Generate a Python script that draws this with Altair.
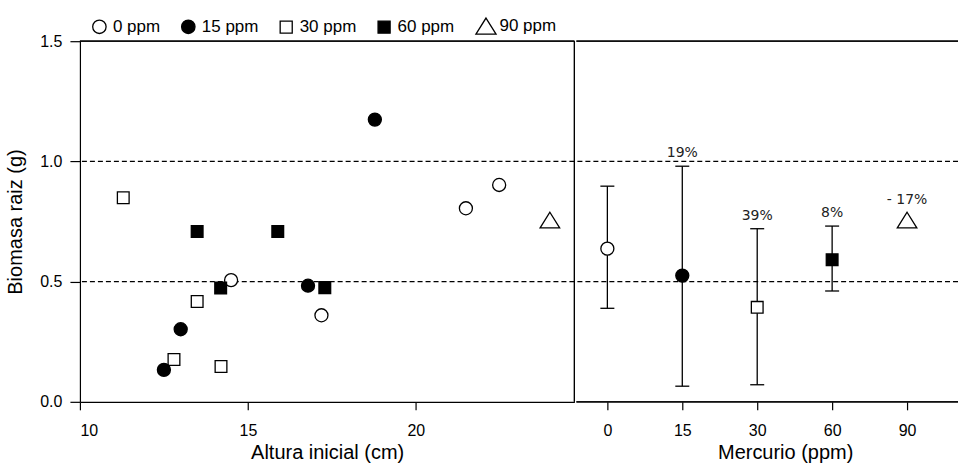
import altair as alt
import pandas as pd

# ---- Left panel: individual plants ----
altura = [11.29, 13.49, 15.89, 14.50, 14.19, 16.79, 17.29, 13.49, 17.19,
          13.00, 12.80, 12.50, 14.20, 18.78, 22.48, 21.49, 23.99]
biomasa = [0.849, 0.708, 0.708, 0.506, 0.473, 0.483, 0.475, 0.417, 0.360,
           0.302, 0.176, 0.133, 0.147, 1.174, 0.902, 0.805, 0.756]
grupo = ["30 ppm", "60 ppm", "60 ppm", "0 ppm", "60 ppm", "15 ppm", "60 ppm",
         "30 ppm", "0 ppm", "15 ppm", "30 ppm", "15 ppm", "30 ppm", "15 ppm",
         "0 ppm", "0 ppm", "90 ppm"]

# ---- Right panel: means per mercury level ----
conc = ["0", "15", "30", "60", "90"]
grupos = ["0 ppm", "15 ppm", "30 ppm", "60 ppm", "90 ppm"]
media = [0.637, 0.525, 0.393, 0.591, 0.756]
sup = [0.897, 0.980, 0.720, 0.731, None]
inf = [0.389, 0.065, 0.071, 0.461, None]
pct = ["", "19%", "39%", "8%", "- 17%"]

ref_y = [0.5, 1.0]

FONT = "Liberation Sans"
SQUARE = "M-0.9,-0.9L0.9,-0.9L0.9,0.9L-0.9,0.9Z"
TRI = "M0,-1.2L1.5,1.2L-1.5,1.2Z"

left_df = pd.DataFrame({"altura": altura, "biomasa": biomasa, "grupo": grupo})
right_df = pd.DataFrame({"conc": conc, "grupo": grupos, "media": media,
                         "sup": sup, "inf": inf, "pct": pct})
ref_df = pd.DataFrame({"y": ref_y})

legend = alt.Legend(orient="none", legendX=11, legendY=-24, direction="horizontal",
                    symbolSize=180, symbolStrokeWidth=1.3, labelFont=FONT,
                    labelFontSize=17, labelColor="black", labelOffset=5,
                    columnPadding=18, symbolOpacity=1)
fill_scale = alt.Scale(domain=grupos, range=["white", "black", "white", "black", "white"])
stroke_scale = alt.Scale(domain=grupos, range=["black", "black", "black", "black", "black"])
shape_scale = alt.Scale(domain=grupos, range=["circle", "circle", SQUARE, SQUARE, TRI])
y_scale = alt.Scale(domain=[0, 1.5], nice=False, zero=False)

axis_common = dict(labelFont=FONT, labelFontSize=16, labelColor="black",
                   titleFont=FONT, titleFontSize=20, titleFontWeight="normal",
                   titleColor="black", domainColor="black", tickColor="black",
                   domainWidth=1.2, tickWidth=1.2, grid=False)

H = 361
WL = 495
WR = 382

# ---------- left panel ----------
xl = alt.X("altura:Q", scale=alt.Scale(domain=[10, 24.72], nice=False, zero=False),
           axis=alt.Axis(values=[10, 15, 20], title="Altura inicial (cm)", tickSize=8,
                         labelPadding=13, titlePadding=4, **axis_common))
yl = alt.Y("biomasa:Q", scale=y_scale,
           axis=alt.Axis(values=[0, 0.5, 1.0, 1.5], format=".1f", title="Biomasa raiz (g)",
                         tickSize=10, labelPadding=8, titlePadding=14, **axis_common))

dash_l = alt.Chart(ref_df).mark_rule(color="black", strokeWidth=1.2, strokeDash=[5, 3]).encode(
    y=alt.Y("y:Q", scale=y_scale))
frame_top_l = alt.Chart(ref_df).mark_rule(color="black", strokeWidth=1.2).encode(
    y=alt.value(0), x=alt.value(0), x2=alt.value(WL))
frame_right_l = alt.Chart(ref_df).mark_rule(color="black", strokeWidth=1.2).encode(
    x=alt.value(WL), y=alt.value(0), y2=alt.value(H))

pts_l = alt.Chart(left_df).mark_point(filled=True, size=170, strokeWidth=1.3, opacity=1).encode(
    x=xl, y=yl,
    fill=alt.Fill("grupo:N", scale=fill_scale, legend=legend, title=""),
    stroke=alt.Stroke("grupo:N", scale=stroke_scale, legend=legend, title=""),
    shape=alt.Shape("grupo:N", scale=shape_scale, legend=legend, title=""),
)

left = alt.layer(dash_l, frame_top_l, frame_right_l, pts_l).properties(width=WL, height=H)

# ---------- right panel ----------
xr = alt.X("conc:N", sort=conc,
           scale=alt.Scale(type="point", domain=conc, range=[31, 331], padding=0),
           axis=alt.Axis(title="Mercurio (ppm)", labelAngle=0, tickSize=8, labelPadding=13,
                         titlePadding=4, titleX=209, titleAlign="center", domain=False,
                         **axis_common))

dash_r = alt.Chart(ref_df).mark_rule(color="black", strokeWidth=1.2, strokeDash=[5, 3]).encode(
    y=alt.Y("y:Q", scale=y_scale, axis=None))
frame_top_r = alt.Chart(ref_df).mark_rule(color="black", strokeWidth=1.2).encode(
    y=alt.value(0), x=alt.value(0), x2=alt.value(WR))
frame_bot_r = alt.Chart(ref_df).mark_rule(color="black", strokeWidth=1.2).encode(
    y=alt.value(H), x=alt.value(0), x2=alt.value(WR))

base_r = alt.Chart(right_df)
err = base_r.transform_filter("isValid(datum.sup)").mark_rule(color="black", strokeWidth=1.3).encode(
    x=xr, y=alt.Y("inf:Q", scale=y_scale, axis=None), y2="sup:Q")
cap_hi = base_r.transform_filter("isValid(datum.sup)").mark_tick(
    orient="horizontal", size=14, thickness=1.3, color="black", opacity=1).encode(
    x=xr, y=alt.Y("sup:Q", scale=y_scale, axis=None))
cap_lo = base_r.transform_filter("isValid(datum.inf)").mark_tick(
    orient="horizontal", size=14, thickness=1.3, color="black", opacity=1).encode(
    x=xr, y=alt.Y("inf:Q", scale=y_scale, axis=None))
pts_r = base_r.mark_point(filled=True, size=170, strokeWidth=1.3, opacity=1).encode(
    x=xr, y=alt.Y("media:Q", scale=y_scale, axis=None),
    fill=alt.Fill("grupo:N", scale=fill_scale, legend=None),
    stroke=alt.Stroke("grupo:N", scale=stroke_scale, legend=None),
    shape=alt.Shape("grupo:N", scale=shape_scale, legend=None),
)
lab_err = base_r.transform_filter("isValid(datum.sup) && datum.pct != ''").mark_text(
    font="DejaVu Sans", fontSize=14, baseline="bottom", dy=-6, color="#222").encode(
    x=xr, y=alt.Y("sup:Q", scale=y_scale, axis=None), text="pct:N")
lab_pt = base_r.transform_filter("!isValid(datum.sup)").mark_text(
    font="DejaVu Sans", fontSize=14, baseline="bottom", dy=-13, color="#222").encode(
    x=xr, y=alt.Y("media:Q", scale=y_scale, axis=None), text="pct:N")

right = alt.layer(dash_r, frame_top_r, frame_bot_r, err, cap_hi, cap_lo, pts_r,
                  lab_err, lab_pt).properties(width=WR, height=H)

chart = alt.hconcat(left, right, spacing=0).properties(
    padding={"left": 5, "top": 17, "right": 0, "bottom": 0},
    background="white",
).configure_view(stroke=None)

chart.save("out.html", embed_options={"renderer": "svg", "actions": False})
